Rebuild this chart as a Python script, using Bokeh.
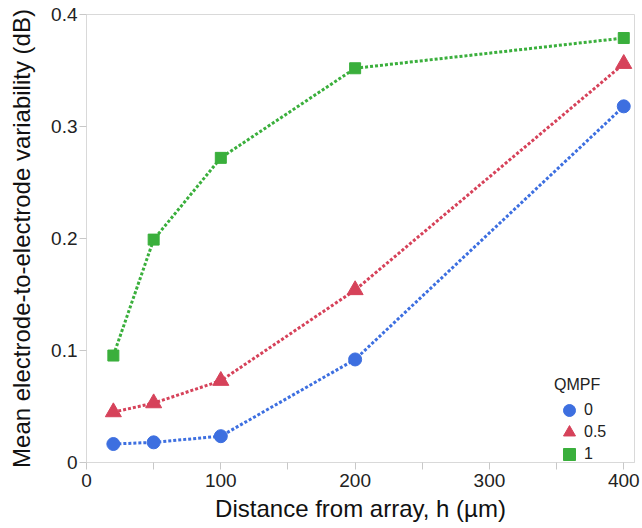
from bokeh.plotting import figure
from bokeh.models import FixedTicker, Range1d, Legend, LegendItem
from bokeh.embed import file_html
from bokeh.resources import INLINE

# ---- data ----
distance = [20, 50, 100, 200, 400]
qmpf_levels = ["0", "0.5", "1"]
var_q0 = [0.0165, 0.018, 0.0235, 0.092, 0.318]
var_q05 = [0.045, 0.053, 0.073, 0.154, 0.356]
var_q1 = [0.0955, 0.199, 0.272, 0.352, 0.379]
x_ticks = [0, 100, 200, 300, 400]
x_minor_ticks = [50, 150, 250, 350]
y_ticks = [0, 0.1, 0.2, 0.3, 0.4]
y_tick_labels = ["0", "0.1", "0.2", "0.3", "0.4"]

colors = ["#3d6fe0", "#d6425a", "#3aaf3c"]
markers = ["circle", "triangle", "square"]
sizes = [13, 16, 11]
series = [var_q0, var_q05, var_q1]

FONT = "Liberation Sans"

p = figure(width=642, height=528, output_backend="svg", toolbar_location=None,
           x_range=Range1d(0, 408), y_range=Range1d(0, 0.4),
           min_border_left=86, min_border_right=8, min_border_top=14, min_border_bottom=66)

p.xgrid.visible = False
p.ygrid.visible = False
p.outline_line_color = "#d9d9d9"
p.outline_line_width = 1
p.background_fill_color = "white"
p.border_fill_color = "white"

p.xaxis.ticker = FixedTicker(ticks=x_ticks, minor_ticks=x_minor_ticks)
p.yaxis.ticker = FixedTicker(ticks=y_ticks, minor_ticks=[])
p.yaxis.major_label_overrides = {t: l for t, l in zip(y_ticks, y_tick_labels)}

for ax in (p.xaxis[0], p.yaxis[0]):
    ax.axis_line_color = "#d9d9d9"
    ax.major_tick_line_color = "#c8c8c8"
    ax.minor_tick_line_color = "#c8c8c8"
    ax.major_tick_out = 7
    ax.major_tick_in = 0
    ax.minor_tick_out = 7
    ax.minor_tick_in = 0
    ax.major_label_text_font = FONT
    ax.major_label_text_font_size = "19px"
    ax.major_label_text_color = "#222222"
    ax.axis_label_text_font = FONT
    ax.axis_label_text_font_size = "24px"
    ax.axis_label_text_font_style = "normal"
    ax.axis_label_text_color = "#111111"

p.xaxis.axis_label = "Distance from array, h (µm)"
p.yaxis.axis_label = "Mean electrode-to-electrode variability (dB)"
p.xaxis.major_label_standoff = 4
p.yaxis.major_label_standoff = 2
p.xaxis.axis_label_standoff = 5
p.yaxis.axis_label_standoff = 13

renderers = []
for ys, c in zip(series, colors):
    p.line(distance, ys, line_color=c, line_width=3, line_dash="3 2")
for ys, c, m, s in zip(series, colors, markers, sizes):
    renderers.append(p.scatter(distance, ys, marker=m, size=s, fill_color=c, line_color=c))

# one legend per level so that the entries can be packed tightly with large glyphs
legend_offsets = [37, 15, -7]
for i, (lvl, r) in enumerate(zip(qmpf_levels, renderers)):
    kw = dict(items=[LegendItem(label=lvl, renderers=[r])], location=(468, legend_offsets[i]),
              padding=0, margin=0, spacing=0,
              glyph_width=30, glyph_height=30, label_height=30, label_standoff=0,
              border_line_color=None, background_fill_alpha=0,
              label_text_font=FONT, label_text_font_size="16px", label_text_color="#222222")
    if i == 0:
        kw.update(title="QMPF", title_text_font=FONT, title_text_font_size="16px",
                  title_text_font_style="normal", title_text_color="#222222", title_standoff=1)
    p.add_layout(Legend(**kw), "center")

open("out.html", "w").write(file_html(p, INLINE))
